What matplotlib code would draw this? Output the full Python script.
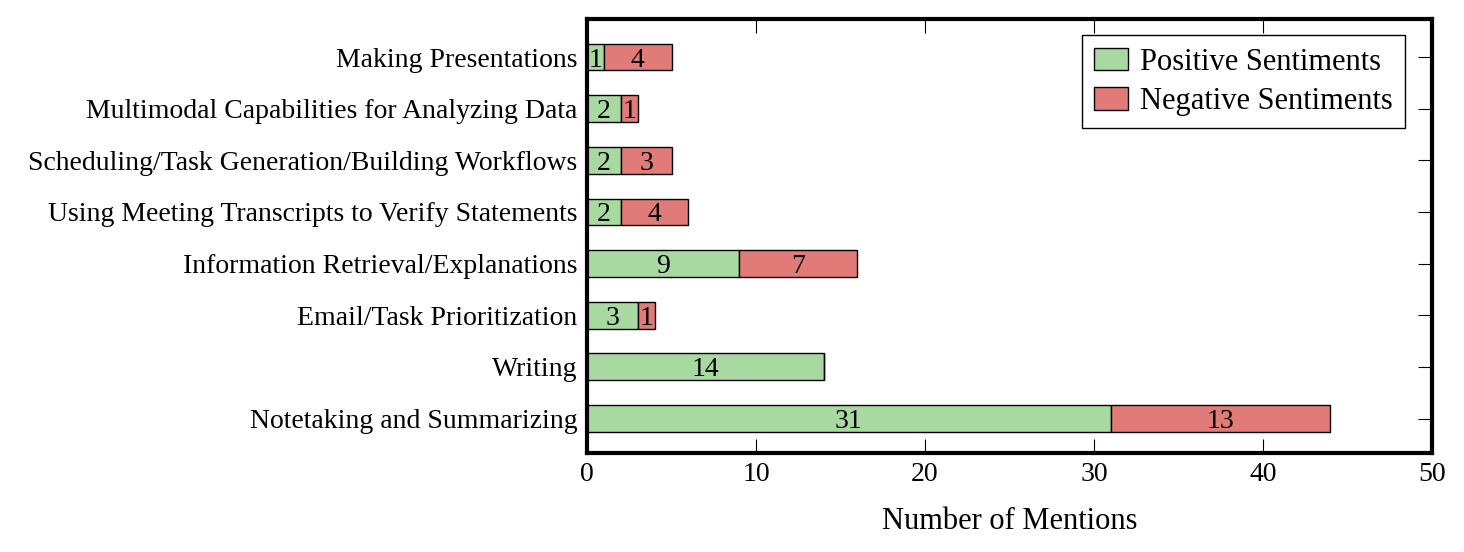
import numpy as np
import matplotlib.pyplot as plt
import matplotlib as mpl

# data (bottom to top)
categories = ['Notetaking and Summarizing', 'Writing', 'Email/Task Prioritization',
              'Information Retrieval/Explanations',
              'Using Meeting Transcripts to Verify Statements',
              'Scheduling/Task Generation/Building Workflows',
              'Multimodal Capabilities for Analyzing Data', 'Making Presentations']
positive = [31, 14, 3, 9, 2, 2, 2, 1]
negative = [13, 0, 1, 7, 4, 3, 1, 4]

# drawing style
mpl.rcParams['font.family'] = ['Liberation Serif', 'DejaVu Serif']
mpl.rcParams['font.size'] = 20
mpl.rcParams['axes.linewidth'] = 3
mpl.rcParams['xtick.top'] = True
mpl.rcParams['xtick.direction'] = 'in'
mpl.rcParams['xtick.major.size'] = 10
mpl.rcParams['xtick.major.width'] = 0.8
mpl.rcParams['ytick.right'] = True
mpl.rcParams['ytick.direction'] = 'in'
mpl.rcParams['ytick.major.size'] = 10
mpl.rcParams['ytick.major.width'] = 0.8

green = '#a8d9a0'
red = '#e07b78'

fig, ax = plt.subplots(figsize=(14.64, 5.52), dpi=100)
fig.subplots_adjust(left=0.401, right=0.978, top=0.965, bottom=0.18)

y = np.arange(len(categories))
h = 0.52
ax.barh(y, positive, height=h, color=green, edgecolor='k', linewidth=1,
        label='Positive Sentiments', zorder=3)
ax.barh(y, negative, height=h, left=positive, color=red, edgecolor='k',
        linewidth=1, label='Negative Sentiments', zorder=3)

for i in range(len(y)):
    if positive[i] > 0:
        ax.text(positive[i] / 2, y[i], str(positive[i]), ha='center',
                va='center_baseline', fontsize=20, zorder=4)
    if negative[i] > 0:
        ax.text(positive[i] + negative[i] / 2, y[i], str(negative[i]), ha='center',
                va='center_baseline', fontsize=20, zorder=4)

ax.set_xlim(0, 50)
ax.set_ylim(-0.66, 7.73)
ax.set_xticks([0, 10, 20, 30, 40, 50])
ax.set_yticks(y)
ax.set_yticklabels(categories)
ax.tick_params(axis='both', pad=7, labelsize=20)
ax.set_xlabel('Number of Mentions', fontsize=22, labelpad=14)
for sp in ax.spines.values():
    sp.set_zorder(5)

leg = ax.legend(loc='upper right', bbox_to_anchor=(0.968, 0.963), fontsize=22,
                fancybox=False, edgecolor='k', framealpha=1, handlelength=1.1,
                handleheight=0.75, handletextpad=0.4, borderaxespad=0,
                borderpad=0.4, labelspacing=0.35)
leg.get_frame().set_linewidth(1)
leg.set_zorder(6)

plt.savefig('out.png', dpi=100)
